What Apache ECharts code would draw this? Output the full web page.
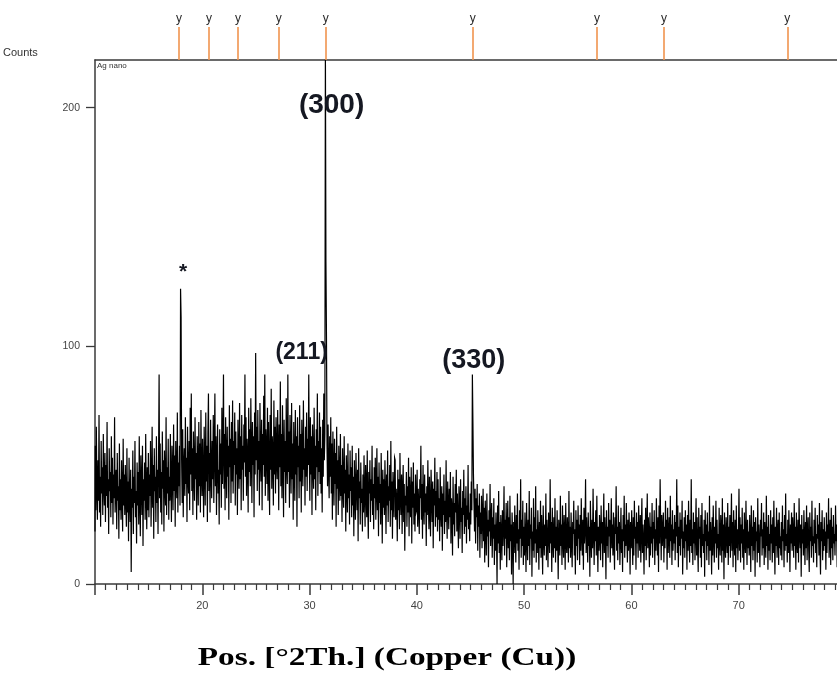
<!DOCTYPE html>
<html>
<head>
<meta charset="utf-8">
<script src="https://cdn.jsdelivr.net/npm/echarts@6/dist/echarts.min.js"></script>
<style>
  html, body { margin: 0; padding: 0; background: #fff; }
  #chart { width: 837px; height: 674px; }
</style>
</head>
<body>
<div id="chart"></div>
<script>
// Scan counts in 0.05° 2θ steps, one array per 5° block (each starts at its block angle)
const STEP_2TH = 0.05;

const counts10 = [
  22, 58, 31, 66, 40, 27, 52, 35, 71, 30, 45, 24, 60, 38, 49, 29, 63, 41, 33, 55,
  26, 50, 37, 68, 32, 44, 21, 57, 39, 47, 28, 62, 34, 53, 25, 46, 36, 70, 30, 42,
  48, 23, 55, 35, 41, 19, 59, 31, 44, 27, 52, 38, 22, 61, 33, 46, 29, 50, 36, 24,
  57, 30, 43, 18, 53, 37, 26, 48, 5, 40, 32, 56, 21, 45, 34, 60, 28, 39, 17, 51,
  33, 47, 25, 62, 36, 20, 54, 42, 29, 58, 16, 44, 35, 51, 27, 63, 38, 23, 49, 31
];
const counts15 = [
  55, 28, 46, 37, 60, 24, 41, 66, 32, 50, 19, 57, 39, 45, 26, 62, 34, 48, 21, 53,
  88, 36, 59, 30, 47, 25, 64, 40, 52, 22, 56, 43, 33, 70, 29, 49, 38, 61, 27, 45,
  35, 63, 42, 26, 58, 47, 31, 67, 39, 54, 24, 60, 44, 36, 72, 30, 51, 41, 58, 33,
  124, 112, 52, 34, 65, 28, 49, 57, 37, 70, 42, 53, 26, 66, 45, 38, 60, 31, 74, 46,
  80, 39, 57, 29, 64, 48, 35, 70, 44, 55, 27, 62, 50, 33, 68, 41, 59, 30, 73, 46
];
const counts20 = [
  37, 61, 45, 28, 66, 50, 33, 72, 43, 58, 26, 63, 80, 39, 55, 30, 69, 47, 36, 60,
  44, 71, 34, 57, 80, 41, 62, 29, 53, 67, 38, 48, 25, 65, 46, 59, 32, 74, 42, 56,
  88, 40, 63, 31, 70, 52, 36, 66, 45, 58, 27, 75, 49, 61, 34, 68, 43, 77, 38, 60,
  50, 72, 33, 64, 46, 57, 29, 69, 53, 40, 76, 44, 62, 31, 71, 48, 58, 35, 67, 51,
  88, 45, 70, 37, 61, 53, 30, 74, 47, 65, 41, 78, 55, 34, 68, 50, 62, 28, 72, 46
];
const counts25 = [
  97, 52, 66, 39, 73, 48, 60, 33, 76, 54, 43, 69, 31, 63, 50, 79, 45, 88, 37, 65,
  57, 42, 74, 35, 68, 51, 29, 71, 48, 82, 40, 62, 54, 33, 77, 46, 66, 38, 70, 52,
  44, 73, 56, 31, 67, 49, 85, 41, 63, 36, 75, 53, 28, 69, 47, 60, 34, 78, 50, 42,
  88, 47, 64, 32, 71, 55, 38, 76, 44, 59, 27, 68, 51, 35, 73, 46, 62, 24, 70, 49,
  58, 36, 75, 43, 63, 30, 69, 52, 41, 77, 48, 57, 33, 66, 45, 72, 39, 61, 50, 88
];
const counts30 = [
  54, 35, 70, 46, 62, 29, 67, 51, 40, 74, 44, 58, 31, 65, 49, 80, 37, 60, 47, 72,
  42, 66, 38, 57, 30, 69, 45, 80, 52, 63, 225, 135, 104, 58, 41, 67, 48, 36, 62, 45,
  70, 38, 59, 27, 64, 46, 33, 61, 42, 55, 24, 66, 40, 52, 29, 58, 45, 35, 63, 37,
  50, 26, 57, 41, 32, 62, 38, 48, 22, 54, 43, 30, 59, 36, 46, 25, 56, 39, 49, 28,
  58, 33, 45, 20, 52, 38, 27, 55, 41, 31, 48, 18, 57, 36, 43, 25, 51, 34, 40, 22
];
const counts35 = [
  46, 30, 54, 37, 24, 50, 41, 28, 56, 33, 19, 47, 38, 52, 26, 44, 35, 58, 29, 42,
  23, 49, 36, 53, 27, 40, 57, 31, 45, 20, 51, 34, 42, 25, 55, 38, 17, 48, 32, 44,
  29, 52, 37, 21, 46, 33, 56, 26, 41, 35, 50, 24, 60, 31, 43, 19, 47, 36, 28, 53,
  52, 27, 40, 34, 18, 48, 31, 44, 23, 55, 36, 29, 46, 21, 39, 50, 26, 42, 14, 37,
  33, 47, 24, 41, 30, 53, 20, 45, 35, 28, 49, 17, 43, 32, 51, 25, 38, 22, 46, 30
];
const counts40 = [
  31, 48, 24, 40, 33, 21, 44, 36, 58, 27, 42, 19, 50, 34, 25, 46, 30, 38, 16, 41,
  29, 52, 35, 23, 45, 31, 20, 48, 37, 26, 43, 15, 40, 33, 53, 24, 39, 28, 47, 22,
  44, 27, 36, 18, 49, 31, 24, 41, 14, 38, 29, 46, 21, 35, 26, 52, 30, 19, 43, 33,
  23, 40, 28, 47, 17, 36, 31, 12, 45, 25, 34, 20, 42, 30, 48, 22, 38, 27, 15, 41,
  35, 19, 44, 26, 32, 13, 39, 29, 48, 21, 36, 24, 41, 17, 33, 27, 50, 23, 30, 18
];
const counts45 = [
  38, 25, 43, 31, 88, 68, 46, 34, 22, 40, 17, 36, 28, 42, 14, 33, 24, 38, 11, 30,
  21, 37, 15, 29, 40, 18, 32, 9, 35, 24, 12, 38, 20, 27, 7, 31, 22, 42, 16, 26,
  34, 11, 28, 19, 36, 8, 25, 14, 30, 20, 0, 33, 17, 39, 13, 26, 6, 29, 21, 10,
  31, 16, 24, 41, 12, 27, 19, 34, 7, 22, 35, 15, 28, 10, 37, 18, 25, 4, 30, 21,
  0, 26, 13, 33, 20, 9, 29, 17, 38, 14, 23, 6, 31, 19, 44, 11, 27, 16, 35, 8
];
const counts50 = [
  24, 12, 30, 18, 5, 34, 21, 10, 27, 16, 39, 8, 25, 19, 32, 3, 22, 14, 36, 11,
  28, 17, 41, 9, 23, 13, 31, 20, 6, 26, 15, 35, 11, 29, 18, 4, 33, 21, 12, 25,
  16, 38, 10, 27, 19, 7, 30, 22, 13, 44, 17, 26, 5, 32, 20, 11, 28, 15, 36, 9,
  24, 14, 31, 18, 2, 27, 21, 12, 37, 16, 25, 8, 33, 19, 11, 29, 22, 6, 34, 17,
  13, 28, 20, 9, 39, 15, 24, 11, 30, 18, 7, 26, 21, 35, 12, 23, 4, 31, 16, 27
];
const counts55 = [
  10, 33, 19, 25, 8, 29, 14, 36, 21, 12, 27, 6, 32, 17, 23, 44, 13, 28, 18, 9,
  30, 16, 24, 3, 35, 20, 11, 27, 15, 40, 22, 8, 26, 18, 31, 12, 37, 19, 5, 24,
  14, 29, 21, 10, 33, 17, 26, 7, 23, 38, 13, 28, 19, 2, 31, 16, 24, 11, 34, 20,
  27, 9, 22, 36, 15, 25, 12, 30, 18, 6, 28, 21, 41, 14, 24, 10, 33, 17, 26, 8,
  19, 32, 13, 23, 5, 29, 18, 37, 11, 25, 16, 34, 20, 9, 27, 14, 30, 22, 4, 26
];
const counts60 = [
  15, 31, 20, 8, 28, 12, 35, 19, 24, 6, 30, 17, 26, 11, 33, 21, 14, 29, 9, 23,
  36, 13, 25, 18, 4, 27, 16, 32, 10, 22, 38, 15, 28, 20, 7, 30, 12, 24, 17, 34,
  11, 26, 19, 31, 8, 23, 14, 36, 21, 12, 28, 5, 33, 17, 44, 25, 10, 29, 16, 22,
  30, 9, 24, 15, 35, 19, 27, 6, 32, 13, 21, 28, 11, 37, 18, 25, 8, 31, 14, 23,
  17, 29, 10, 26, 20, 44, 13, 33, 7, 24, 16, 30, 12, 27, 19, 35, 4, 22, 15, 28
];
const counts65 = [
  11, 31, 18, 25, 6, 29, 14, 35, 20, 9, 27, 16, 44, 13, 23, 8, 30, 17, 26, 10,
  22, 36, 12, 28, 15, 5, 32, 19, 24, 11, 29, 7, 34, 16, 21, 13, 27, 3, 31, 18,
  25, 10, 30, 16, 22, 8, 37, 14, 26, 19, 4, 28, 12, 33, 20, 9, 24, 17, 35, 11,
  27, 15, 21, 6, 32, 18, 12, 29, 23, 9, 36, 14, 25, 2, 30, 17, 11, 28, 20, 13,
  34, 8, 24, 16, 29, 11, 22, 38, 14, 26, 7, 31, 19, 12, 27, 5, 33, 15, 23, 10
];
const counts70 = [
  21, 40, 14, 28, 9, 25, 17, 32, 11, 23, 6, 30, 18, 13, 35, 20, 8, 27, 15, 22,
  12, 29, 19, 5, 33, 16, 24, 10, 31, 14, 26, 3, 28, 18, 22, 9, 36, 13, 25, 17,
  7, 27, 20, 34, 12, 23, 15, 30, 8, 26, 19, 11, 37, 16, 24, 6, 29, 14, 21, 10,
  31, 17, 25, 9, 28, 13, 35, 19, 4, 24, 16, 32, 11, 22, 27, 8, 30, 15, 20, 12,
  26, 10, 33, 18, 23, 7, 29, 14, 38, 16, 21, 9, 27, 13, 31, 19, 5, 25, 17, 30
];
const counts75 = [
  14, 28, 20, 11, 34, 16, 24, 6, 30, 18, 13, 27, 9, 36, 21, 15, 25, 3, 29, 17,
  23, 12, 31, 19, 8, 26, 15, 33, 10, 22, 28, 14, 5, 30, 18, 24, 11, 35, 16, 20,
  9, 27, 17, 32, 13, 21, 7, 29, 19, 25, 12, 34, 15, 4, 26, 18, 31, 10, 23, 14,
  28, 16, 22, 6, 30, 13, 25, 19, 36, 11, 20, 27, 8, 32, 15, 24, 10, 29, 17, 21,
  12, 33, 18, 25, 7, 28, 14, 22, 31, 9, 26, 16, 20, 11, 30, 15, 24, 6, 27, 19
];

// Block start angles (°2θ) and their count arrays
const blockStarts = [10, 15, 20, 25, 30, 35, 40, 45, 50, 55, 60, 65, 70, 75];
const blockCounts = [counts10, counts15, counts20, counts25, counts30, counts35, counts40,
  counts45, counts50, counts55, counts60, counts65, counts70, counts75];

// Reference pattern line positions (°2θ)
const refPositions = [17.82, 20.62, 23.32, 27.12, 31.50, 45.21, 56.78, 63.03, 74.53];

// Peak annotations: text, 2θ, count level
const peakTexts = ['*', '(211)', '(300)', '(330)'];
const peakAt2Th = [18.2, 29.26, 32.05, 45.3];
const peakAtCounts = [131, 97, 201, 94];

const yTicks = [0, 100, 200];
const sampleName = 'Ag nano';
const yName = 'Counts';
const xName = 'Pos. [°2Th.] (Copper (Cu))';

const scan = [];
blockStarts.forEach((start, b) => {
  blockCounts[b].forEach((c, i) => {
    scan.push([Math.round((start + i * STEP_2TH) * 1000) / 1000, c]);
  });
});

const chart = echarts.init(document.getElementById('chart'), null, { renderer: 'canvas' });

const AXIS_COLOR = '#3a3a3a';
const LABEL_FONT = 'Liberation Sans, Arial, sans-serif';
const PEAK_LABEL_SIZES = [21, 23, 28, 27];

chart.setOption({
  animation: false,
  backgroundColor: '#fff',
  grid: [
    { left: 95, right: -9, top: 60, bottom: 90, outerBoundsMode: 'none', containLabel: false },
    { left: 95, right: -9, top: 27, height: 33, outerBoundsMode: 'none', containLabel: false }
  ],
  xAxis: [
    {
      gridIndex: 0, type: 'value', min: 10, max: 80, interval: 10,
      axisLine: { show: true, onZero: false, lineStyle: { color: AXIS_COLOR, width: 1.5 } },
      axisTick: { show: true, length: 11, lineStyle: { color: AXIS_COLOR, width: 1.5 } },
      minorTick: { show: true, splitNumber: 10, length: 6, lineStyle: { color: AXIS_COLOR, width: 1.2 } },
      splitLine: { show: false },
      axisLabel: { showMinLabel: false, showMaxLabel: false, fontSize: 11, color: '#444', fontFamily: LABEL_FONT, margin: 16 }
    },
    {
      gridIndex: 1, type: 'value', min: 10, max: 80,
      axisLine: { show: true, onZero: false, lineStyle: { color: AXIS_COLOR, width: 1.5 } },
      axisTick: { show: false }, axisLabel: { show: false }, splitLine: { show: false }
    }
  ],
  yAxis: [
    {
      gridIndex: 0, type: 'value', min: 0, max: 220,
      axisLine: { show: true, lineStyle: { color: AXIS_COLOR, width: 1.5 } },
      axisTick: { show: true, length: 9, lineStyle: { color: AXIS_COLOR, width: 1.3 }, customValues: yTicks },
      axisLabel: { fontSize: 10.5, color: '#444', fontFamily: LABEL_FONT, margin: 15, customValues: yTicks },
      splitLine: { show: false }
    },
    { gridIndex: 1, type: 'value', min: 0, max: 1, show: false }
  ],
  series: [
    {
      name: sampleName,
      type: 'line', xAxisIndex: 0, yAxisIndex: 0,
      data: scan, step: 'middle', symbol: 'none', clip: true,
      sampling: null, progressive: 0,
      lineStyle: { color: '#000', width: 1.2, join: 'miter', cap: 'butt' },
      z: 2
    },
    {
      type: 'scatter', xAxisIndex: 0, yAxisIndex: 0,
      data: peakTexts.map((t, i) => ({
        value: [peakAt2Th[i], peakAtCounts[i]], name: t,
        label: { fontSize: PEAK_LABEL_SIZES[i] }
      })),
      symbolSize: 0, itemStyle: { color: '#000' },
      label: {
        show: true, position: 'inside', formatter: p => p.name,
        fontFamily: 'Liberation Sans, Arial, sans-serif', fontWeight: 'bold',
        color: '#151822', opacity: 1
      },
      labelLayout: { hideOverlap: false },
      z: 5
    },
    {
      type: 'scatter', xAxisIndex: 1, yAxisIndex: 1,
      data: refPositions.map(p => [p, 0]), symbolSize: 0,
      markLine: {
        silent: true, symbol: 'none',
        data: refPositions.map(p => ({ xAxis: p })),
        lineStyle: { color: '#f0944e', width: 1.6, type: 'solid' },
        label: { show: true, position: 'end', formatter: 'y', distance: 2, fontSize: 12, color: '#2a2a2a', fontFamily: LABEL_FONT }
      }
    }
  ],
  graphic: [
    { type: 'text', left: 97, top: 62, style: { text: sampleName, fontSize: 8, fill: '#333', fontFamily: LABEL_FONT } },
    { type: 'text', left: 3, top: 47, style: { text: yName, fontSize: 11, fill: '#333', fontFamily: LABEL_FONT } },
    {
      type: 'text', x: 387, y: 658, scaleX: 1.28,
      style: {
        text: xName, textAlign: 'center', textVerticalAlign: 'middle',
        font: 'bold 26px "Liberation Serif", "Times New Roman", serif', fill: '#000'
      }
    }
  ]
});
</script>
</body>
</html>
